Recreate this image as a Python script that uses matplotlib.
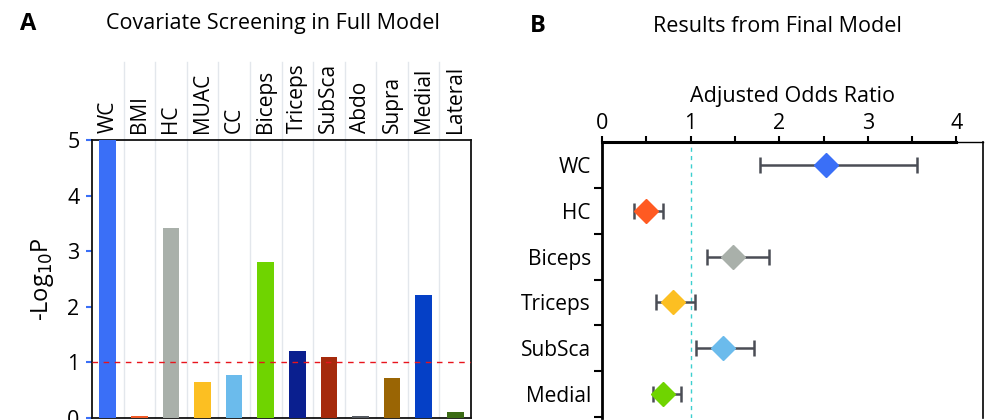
import matplotlib
matplotlib.use("Agg")
import matplotlib.pyplot as plt
import numpy as np
from matplotlib.ticker import FixedLocator, NullFormatter

plt.rcParams['font.family'] = ['Open Sans', 'DejaVu Sans']

# Panel A data
cov_names = ["WC", "BMI", "HC", "MUAC", "CC", "Biceps", "Triceps", "SubSca",
             "Abdo", "Supra", "Medial", "Lateral"]
neg_log_p = [5.0, 0.04, 3.41, 0.65, 0.78, 2.80, 1.20, 1.09, 0.04, 0.72, 2.22, 0.10]
bar_colors = ["#3a6ff7", "#f05a28", "#a9b0aa", "#fcbf22", "#6bbbec", "#6fd400",
              "#0a1f8f", "#a52a0c", "#555a60", "#9a6504", "#0540c6", "#3b6b15"]
threshold = 1.0

# Panel B data
final_names = ["WC", "HC", "Biceps", "Triceps", "SubSca", "Medial"]
odds = [2.53, 0.50, 1.48, 0.80, 1.36, 0.69]
ci_low = [1.78, 0.36, 1.19, 0.61, 1.06, 0.57]
ci_high = [3.56, 0.69, 1.89, 1.05, 1.72, 0.89]
marker_colors = ["#3a6ff7", "#ff5a22", "#a9b0aa", "#fcbf22", "#6bbbec", "#6fd400"]
ref_line = 1.0

W, H = 985, 420
fig = plt.figure(figsize=(W / 100, H / 100), dpi=100)

def rect(l, t, r, b):
    return [l / W, 1 - b / H, (r - l) / W, (b - t) / H]

# ---------- Panel A ----------
axA = fig.add_axes(rect(92, 140, 471, 418))
x = np.arange(len(cov_names))
axA.bar(x, neg_log_p, width=0.53, color=bar_colors, zorder=3)
axA.set_xlim(-0.5, len(cov_names) - 0.5)
axA.set_ylim(0, 5)
axA.axhline(threshold, color="#e8141c", lw=1.0, ls=(0, (4, 4)), zorder=4)
for b in np.arange(0.5, len(cov_names) - 0.5, 1):
    axA.axvline(b, ymin=0, ymax=1 + (140 - 62) / 278, color="#e3e7ec", lw=1.0,
                clip_on=False, zorder=1)
axA.set_xticks(x)
axA.set_xticklabels(cov_names, rotation=90, fontsize=15)
axA.xaxis.tick_top()
axA.tick_params(axis="x", length=0, pad=5)
axA.set_yticks(range(0, 6))
axA.tick_params(axis="y", labelsize=15.5, length=4, width=1.5, color="#3a6ff7",
                direction="out", pad=5)
for s in axA.spines.values():
    s.set_linewidth(1.3)
    s.set_color("#111111")
axA.set_ylabel("-Log$_{10}$P", fontsize=17, labelpad=8)
fig.text(20 / W, 1 - 24 / H, "A", fontsize=17, fontweight="bold", va="center")
fig.text(273 / W, 1 - 23 / H, "Covariate Screening in Full Model", fontsize=15.5,
         ha="center", va="center")

# ---------- Panel B ----------
axB = fig.add_axes(rect(602, 142, 983, 418))
y = np.arange(len(final_names))
xerr = [np.array(odds) - np.array(ci_low), np.array(ci_high) - np.array(odds)]
axB.errorbar(odds, y, xerr=xerr, fmt="none", ecolor="#4a4d55", elinewidth=1.8,
             capsize=6, capthick=1.8, zorder=3)
for xi, yi, c in zip(odds, y, marker_colors):
    axB.plot(xi, yi, marker="D", ms=12.5, color=c, mec=c, zorder=4)
axB.axvline(ref_line, color="#3ccfcf", lw=1.0, ls=(0, (3, 3)), zorder=2)
axB.set_xlim(0, 4.3)
axB.set_ylim(len(final_names) - 0.5 + 0.02, -0.5)
axB.xaxis.tick_top()
axB.xaxis.set_label_position("top")
axB.set_xticks([0, 1, 2, 3, 4])
axB.xaxis.set_minor_locator(FixedLocator([0.5, 1.5, 2.5, 3.5]))
axB.tick_params(axis="x", which="both", labelsize=15.5, length=4, width=1.5,
                direction="out", pad=2)
axB.set_xlabel("Adjusted Odds Ratio", fontsize=15.5, labelpad=8)
axB.set_yticks(y)
axB.set_yticklabels(final_names, fontsize=15)
axB.yaxis.set_minor_locator(FixedLocator(np.arange(0.5, len(final_names), 1)))
axB.yaxis.set_minor_formatter(NullFormatter())
axB.tick_params(axis="y", which="major", length=0, pad=8)
axB.tick_params(axis="y", which="minor", length=6, width=1.5, direction="out")
axB.spines["top"].set_linewidth(1.0)
axB.spines["right"].set_linewidth(1.2)
axB.spines["bottom"].set_visible(False)
axB.spines["left"].set_linewidth(2.0)
axB.plot([0, 4], [-0.5, -0.5], color="black", lw=2.2, clip_on=False, zorder=5)
fig.text(530 / W, 1 - 26 / H, "B", fontsize=17, fontweight="bold", va="center")
fig.text(777 / W, 1 - 27 / H, "Results from Final Model", fontsize=15.5,
         ha="center", va="center")

fig.savefig("out.png", dpi=100)
